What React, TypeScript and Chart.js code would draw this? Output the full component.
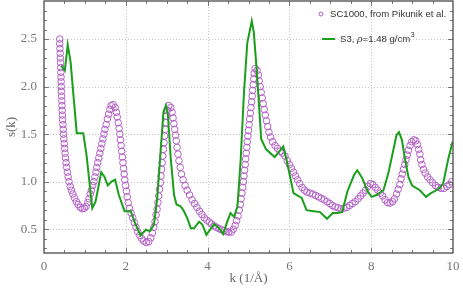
import React, { useEffect, useRef } from 'react';
import { Chart, registerables } from 'chart.js';

Chart.register(...registerables);

const X_MIN = 0;
const X_MAX = 10;
const Y_MIN = 0.25;
const Y_MAX = 2.9;
const X_TICKS = [0, 2, 4, 6, 8, 10];
const Y_TICKS = [0.5, 1.0, 1.5, 2.0, 2.5];
const X_TITLE = 'k (1/Å)';
const Y_TITLE = 's(k)';
const SERIES_NAMES = ['SC1000, from Pikunik et al.', 'S3, '];
const S3_LABEL_PARTS = ['ρ', '=1.48 g/cm', '3'];

const PURPLE = '#b35fc6';
const GREEN = '#1a9f1a';

// SC1000 (Pikunik et al.) — [k, s(k)]
const sc1000: [number, number][] = [
  [0.384, 2.50], [0.385, 2.45], [0.390, 2.40], [0.395, 2.35], [0.400, 2.30], [0.405, 2.25],
  [0.410, 2.20], [0.413, 2.15], [0.416, 2.10], [0.419, 2.05], [0.422, 2.00], [0.425, 1.95],
  [0.430, 1.90], [0.435, 1.85], [0.440, 1.80], [0.445, 1.75], [0.450, 1.70], [0.455, 1.65],
  [0.462, 1.60], [0.470, 1.55], [0.478, 1.50], [0.486, 1.45], [0.495, 1.40], [0.505, 1.35],
  [0.515, 1.30], [0.527, 1.25], [0.540, 1.20], [0.555, 1.15], [0.572, 1.10], [0.590, 1.05],
  [0.612, 1.00], [0.640, 0.95], [0.670, 0.91], [0.705, 0.87], [0.745, 0.83], [0.790, 0.79],
  [0.835, 0.76], [0.885, 0.73], [0.935, 0.715], [0.985, 0.72], [1.03, 0.74],
  [1.07, 0.78], [1.10, 0.82], [1.13, 0.87], [1.16, 0.91], [1.19, 0.96], [1.22, 1.00],
  [1.245, 1.05], [1.27, 1.10], [1.29, 1.15], [1.315, 1.20], [1.34, 1.25], [1.365, 1.30],
  [1.39, 1.35], [1.415, 1.40], [1.44, 1.45], [1.465, 1.50], [1.49, 1.55], [1.52, 1.60],
  [1.55, 1.66], [1.58, 1.71], [1.61, 1.76], [1.64, 1.80], [1.69, 1.81],
  [1.74, 1.78], [1.77, 1.73], [1.79, 1.68], [1.815, 1.62], [1.835, 1.56], [1.855, 1.50],
  [1.87, 1.44], [1.885, 1.38], [1.90, 1.32], [1.915, 1.26], [1.93, 1.20], [1.945, 1.14],
  [1.96, 1.08], [1.975, 1.02], [1.995, 0.96], [2.015, 0.90], [2.035, 0.84], [2.06, 0.78],
  [2.09, 0.72], [2.13, 0.67], [2.17, 0.62], [2.21, 0.57], [2.25, 0.52], [2.29, 0.475],
  [2.34, 0.435], [2.39, 0.40], [2.44, 0.375], [2.50, 0.36],
  [2.56, 0.37], [2.61, 0.41], [2.65, 0.46], [2.685, 0.52], [2.715, 0.58], [2.74, 0.65],
  [2.765, 0.71], [2.785, 0.78], [2.805, 0.85], [2.825, 0.92], [2.845, 0.99], [2.86, 1.06],
  [2.875, 1.13], [2.89, 1.20], [2.905, 1.27], [2.92, 1.34], [2.935, 1.41], [2.95, 1.48],
  [2.965, 1.55], [2.98, 1.62], [2.995, 1.69], [3.015, 1.75], [3.05, 1.80], [3.10, 1.78],
  [3.13, 1.73], [3.155, 1.67], [3.175, 1.61], [3.195, 1.55], [3.215, 1.49], [3.235, 1.43],
  [3.255, 1.36], [3.275, 1.29], [3.30, 1.22], [3.33, 1.15], [3.36, 1.08], [3.40, 1.02],
  [3.45, 0.96], [3.50, 0.91], [3.56, 0.86], [3.62, 0.81], [3.68, 0.77], [3.74, 0.73],
  [3.80, 0.69], [3.86, 0.655], [3.92, 0.62], [3.98, 0.595], [4.04, 0.575], [4.10, 0.555],
  [4.16, 0.535], [4.22, 0.52], [4.28, 0.505], [4.34, 0.495], [4.40, 0.485], [4.46, 0.475],
  [4.52, 0.47], [4.58, 0.47],
  [4.63, 0.50], [4.675, 0.54], [4.71, 0.59], [4.745, 0.64], [4.775, 0.70], [4.80, 0.76],
  [4.82, 0.82], [4.84, 0.88], [4.86, 0.94], [4.875, 1.00], [4.89, 1.06], [4.905, 1.12],
  [4.92, 1.18], [4.93, 1.24], [4.945, 1.30], [4.96, 1.36], [4.97, 1.42], [4.985, 1.48],
  [5.00, 1.54], [5.015, 1.60], [5.03, 1.66], [5.045, 1.72], [5.06, 1.78], [5.075, 1.84],
  [5.09, 1.90], [5.10, 1.96], [5.115, 2.02], [5.13, 2.08], [5.14, 2.14], [5.16, 2.19],
  [5.21, 2.17],
  [5.24, 2.12], [5.26, 2.06], [5.285, 2.00], [5.31, 1.94], [5.335, 1.88], [5.36, 1.82],
  [5.385, 1.76], [5.41, 1.70], [5.44, 1.64], [5.47, 1.58], [5.50, 1.52], [5.54, 1.47],
  [5.59, 1.42], [5.65, 1.38], [5.71, 1.35], [5.77, 1.32], [5.83, 1.30], [5.89, 1.27],
  [5.95, 1.22], [6.00, 1.18], [6.05, 1.14], [6.10, 1.10], [6.15, 1.06], [6.20, 1.02],
  [6.25, 0.98], [6.31, 0.94], [6.37, 0.91], [6.43, 0.89], [6.50, 0.88], [6.57, 0.87],
  [6.64, 0.855], [6.71, 0.84], [6.78, 0.825], [6.85, 0.81], [6.92, 0.79], [6.99, 0.77],
  [7.05, 0.75], [7.12, 0.735], [7.19, 0.725], [7.26, 0.715], [7.33, 0.72],
  [7.40, 0.73], [7.47, 0.75], [7.54, 0.77], [7.61, 0.79], [7.68, 0.82], [7.74, 0.85],
  [7.80, 0.88], [7.86, 0.91], [7.92, 0.95], [7.98, 0.98], [8.04, 0.97], [8.10, 0.94],
  [8.16, 0.91], [8.22, 0.88], [8.28, 0.85], [8.34, 0.81], [8.40, 0.78], [8.46, 0.775],
  [8.52, 0.79], [8.57, 0.82], [8.62, 0.87], [8.66, 0.92], [8.70, 0.97], [8.73, 1.03],
  [8.76, 1.08], [8.79, 1.13], [8.82, 1.18], [8.85, 1.23], [8.88, 1.28], [8.91, 1.33],
  [8.95, 1.38], [8.99, 1.42], [9.04, 1.44], [9.09, 1.43], [9.13, 1.39], [9.16, 1.34],
  [9.19, 1.29], [9.21, 1.23], [9.24, 1.18], [9.28, 1.13], [9.32, 1.09], [9.38, 1.05],
  [9.44, 1.02], [9.50, 0.99], [9.57, 0.96], [9.64, 0.94], [9.71, 0.93], [9.78, 0.93],
  [9.85, 0.95], [9.91, 0.97], [9.97, 1.00],
];

// S3, rho = 1.48 g/cm^3 — [k, s(k)]
const s3: [number, number][] = [
  [0.42, 2.22], [0.51, 2.17], [0.58, 2.44], [0.65, 2.26], [0.80, 1.51], [0.96, 1.51],
  [1.04, 1.28], [1.18, 0.72], [1.26, 0.79], [1.40, 1.10], [1.48, 1.05], [1.56, 0.96],
  [1.65, 1.00], [1.74, 1.02], [1.83, 0.86], [1.97, 0.69], [2.12, 0.69], [2.24, 0.55],
  [2.36, 0.435], [2.49, 0.495], [2.59, 0.48], [2.69, 0.55], [2.77, 0.83], [2.85, 1.31],
  [2.92, 1.73], [2.98, 1.80], [3.03, 1.70], [3.10, 1.24], [3.18, 0.86], [3.24, 0.76],
  [3.34, 0.74], [3.41, 0.70], [3.50, 0.62], [3.59, 0.51], [3.67, 0.51], [3.79, 0.58],
  [3.87, 0.55], [3.97, 0.44], [4.16, 0.555], [4.28, 0.51], [4.38, 0.45], [4.48, 0.58],
  [4.56, 0.67], [4.65, 0.63], [4.73, 0.74], [4.81, 1.24], [4.89, 1.94], [4.97, 2.46],
  [5.08, 2.69], [5.13, 2.57], [5.21, 2.12], [5.31, 1.45], [5.43, 1.34], [5.64, 1.26],
  [5.74, 1.31], [5.85, 1.37], [5.93, 1.23], [6.10, 0.88], [6.30, 0.83], [6.42, 0.70],
  [6.59, 0.69], [6.75, 0.68], [6.92, 0.61], [7.06, 0.67], [7.17, 0.67], [7.29, 0.68],
  [7.42, 0.90], [7.58, 1.07], [7.66, 1.12], [7.78, 1.04], [7.91, 0.90], [8.01, 0.84],
  [8.13, 0.86], [8.30, 0.91], [8.42, 1.09], [8.54, 1.33], [8.62, 1.49], [8.68, 1.52],
  [8.75, 1.44], [8.83, 1.23], [8.91, 1.05], [9.00, 0.96], [9.19, 0.91], [9.34, 0.84],
  [9.46, 0.88], [9.64, 0.92], [9.76, 0.98], [9.88, 1.23], [9.99, 1.42],
];

const SERIF = '"Liberation Serif", "Times New Roman", serif';
const SANS = '"Liberation Sans", Arial, sans-serif';

const framePlugin = {
  id: 'frameAndGrid',
  beforeDatasetsDraw(chart: any) {
    const { ctx, chartArea: a, scales } = chart;
    const x = scales.x;
    const y = scales.y;
    ctx.save();
    ctx.strokeStyle = '#c4c4c4';
    ctx.lineWidth = 1;
    ctx.setLineDash([1, 2]);
    for (const v of X_TICKS) {
      if (v === X_MIN || v === X_MAX) continue;
      const px = Math.round(x.getPixelForValue(v)) + 0.5;
      ctx.beginPath();
      ctx.moveTo(px, a.top);
      ctx.lineTo(px, a.bottom);
      ctx.stroke();
    }
    for (const v of Y_TICKS) {
      const py = Math.round(y.getPixelForValue(v)) + 0.5;
      ctx.beginPath();
      ctx.moveTo(a.left, py);
      ctx.lineTo(a.right, py);
      ctx.stroke();
    }
    ctx.restore();
  },
  afterDatasetsDraw(chart: any) {
    const { ctx, chartArea: a, scales } = chart;
    const x = scales.x;
    const y = scales.y;
    ctx.save();
    ctx.strokeStyle = '#777';
    ctx.lineWidth = 1;
    for (let i = 1; i < 20; i++) {
      const v = i * 0.5;
      const major = i % 4 === 0;
      const len = major ? 5 : 3;
      const px = Math.round(x.getPixelForValue(v)) + 0.5;
      ctx.beginPath();
      ctx.moveTo(px, a.bottom);
      ctx.lineTo(px, a.bottom - len);
      ctx.moveTo(px, a.top);
      ctx.lineTo(px, a.top + len);
      ctx.stroke();
    }
    for (let i = 3; i <= 28; i++) {
      const v = i / 10;
      const major = i % 5 === 0;
      const len = major ? 5 : 3;
      const py = Math.round(y.getPixelForValue(v)) + 0.5;
      ctx.beginPath();
      ctx.moveTo(a.left, py);
      ctx.lineTo(a.left + len, py);
      ctx.moveTo(a.right, py);
      ctx.lineTo(a.right - len, py);
      ctx.stroke();
    }
    ctx.strokeStyle = '#4a4a4a';
    ctx.lineWidth = 1.3;
    ctx.strokeRect(a.left, a.top, a.right - a.left, a.bottom - a.top);
    ctx.restore();
  },
};

const legendPlugin = {
  id: 'insideLegend',
  afterDraw(chart: any) {
    const { ctx, chartArea: a } = chart;
    const x0 = a.right - 132;
    ctx.save();
    ctx.strokeStyle = PURPLE;
    ctx.lineWidth = 1;
    ctx.beginPath();
    ctx.arc(x0, a.top + 13, 2, 0, Math.PI * 2);
    ctx.stroke();
    ctx.fillStyle = '#333';
    ctx.textBaseline = 'middle';
    ctx.textAlign = 'left';
    ctx.font = `9.6px ${SANS}`;
    ctx.fillText(SERIES_NAMES[0], x0 + 9, a.top + 13);
    const y2 = a.top + 38;
    ctx.strokeStyle = GREEN;
    ctx.lineWidth = 2;
    ctx.beginPath();
    ctx.moveTo(x0 + 1, y2);
    ctx.lineTo(x0 + 14, y2);
    ctx.stroke();
    let tx = x0 + 19;
    ctx.font = `9.6px ${SANS}`;
    ctx.fillText(SERIES_NAMES[1], tx, y2);
    tx += ctx.measureText(SERIES_NAMES[1]).width;
    ctx.font = `italic 9.6px ${SANS}`;
    ctx.fillText(S3_LABEL_PARTS[0], tx, y2);
    tx += ctx.measureText(S3_LABEL_PARTS[0]).width;
    ctx.font = `9.6px ${SANS}`;
    ctx.fillText(S3_LABEL_PARTS[1], tx, y2);
    tx += ctx.measureText(S3_LABEL_PARTS[1]).width;
    ctx.font = `7px ${SANS}`;
    ctx.fillText(S3_LABEL_PARTS[2], tx + 0.5, y2 - 4);
    ctx.restore();
  },
};

export default function App() {
  const ref = useRef<HTMLCanvasElement>(null);
  useEffect(() => {
    const canvas = ref.current;
    if (!canvas) return;
    const chart = new Chart(canvas, {
      type: 'scatter',
      data: {
        datasets: [
          {
            label: SERIES_NAMES[0],
            data: sc1000.map(([k, s]) => ({ x: k, y: s })),
            showLine: false,
            pointStyle: 'circle',
            pointRadius: 3.3,
            pointBorderWidth: 1,
            pointBorderColor: PURPLE,
            pointBackgroundColor: 'rgba(0,0,0,0)',
            order: 1,
          },
          {
            label: SERIES_NAMES[1] + S3_LABEL_PARTS.join(''),
            data: s3.map(([k, s]) => ({ x: k, y: s })),
            showLine: true,
            borderColor: GREEN,
            borderWidth: 2,
            pointRadius: 0,
            tension: 0,
            order: 0,
          },
        ],
      },
      options: {
        animation: false,
        responsive: false,
        maintainAspectRatio: false,
        layout: { autoPadding: false, padding: { top: 1, right: 10, bottom: 8, left: 0 } },
        plugins: { legend: { display: false }, tooltip: { enabled: false } },
        scales: {
          x: {
            type: 'linear',
            min: X_MIN,
            max: X_MAX,
            afterBuildTicks: (s: any) => {
              s.ticks = X_TICKS.map((v) => ({ value: v }));
            },
            afterFit: (s: any) => {
              s.height = 33;
              s.paddingLeft = 0;
              s.paddingRight = 0;
              s.paddingTop = 0;
              s.paddingBottom = 0;
            },
            grid: { display: false, drawTicks: false, tickLength: 0 },
            border: { display: false },
            ticks: {
              autoSkip: false,
              maxRotation: 0,
              padding: 6,
              color: '#777',
              font: { family: SERIF, size: 13 },
              callback: (v: any) => String(v),
            },
            title: {
              display: true,
              text: X_TITLE,
              color: '#666',
              font: { family: SERIF, size: 13 },
              padding: { top: 0, bottom: 0 },
            },
          },
          y: {
            type: 'linear',
            min: Y_MIN,
            max: Y_MAX,
            afterBuildTicks: (s: any) => {
              s.ticks = Y_TICKS.map((v) => ({ value: v }));
            },
            afterFit: (s: any) => {
              s.width = 44;
              s.paddingLeft = 0;
              s.paddingRight = 0;
              s.paddingTop = 0;
              s.paddingBottom = 0;
            },
            grid: { display: false, drawTicks: false, tickLength: 0 },
            border: { display: false },
            ticks: {
              autoSkip: false,
              padding: 7,
              color: '#777',
              font: { family: SERIF, size: 13 },
              callback: (v: any) => Number(v).toFixed(1),
            },
            title: {
              display: true,
              text: Y_TITLE,
              color: '#666',
              font: { family: SERIF, size: 13 },
              padding: { top: 4, bottom: 0 },
            },
          },
        },
      },
      plugins: [framePlugin, legendPlugin],
    } as any);
    return () => chart.destroy();
  }, []);
  return (
    <div style={{ position: 'fixed', left: 0, top: 0, width: 463, height: 294, background: '#fff' }}>
      <canvas ref={ref} width={463} height={294} style={{ display: 'block' }} />
    </div>
  );
}
